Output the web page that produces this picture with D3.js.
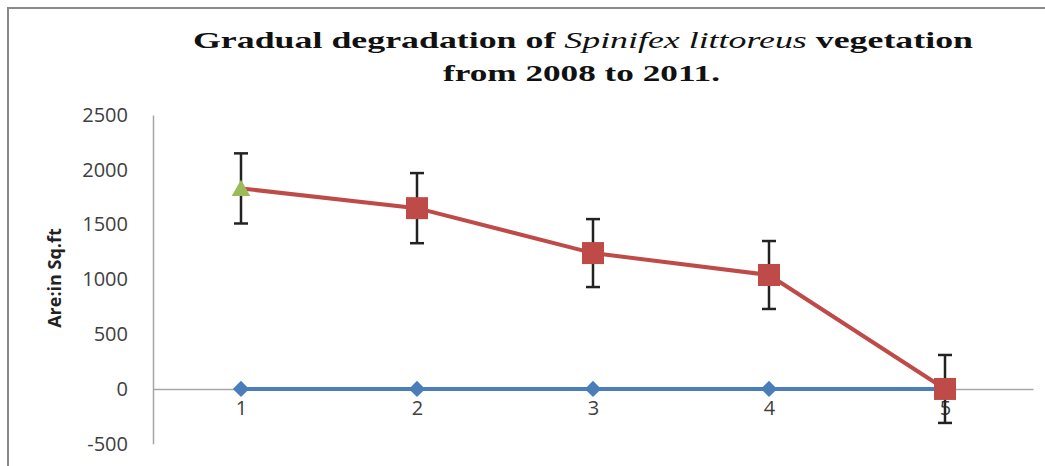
<!DOCTYPE html>
<html><head><meta charset="utf-8">
<script src="https://cdn.jsdelivr.net/npm/d3@7"></script>
<style>body{margin:0;background:#fff;} svg{display:block;}</style>
</head><body>
<svg id="chart" width="1045" height="466"></svg>
<script>
const categories = ["1","2","3","4","5"];
const areaValues = [1830, 1650, 1240, 1040, 0];
const areaErrors = [320, 320, 310, 310, 310];
const baselineValues = [0, 0, 0, 0, 0];
const startMarkerValues = [1810];
const yTicks = [-500, 0, 500, 1000, 1500, 2000, 2500];

const svg = d3.select("#chart");
const W = 1045, H = 466;
svg.append("rect").attr("x",0).attr("y",0).attr("width",W).attr("height",H).attr("fill","#fff");
svg.append("rect").attr("x",8).attr("y",8).attr("width",W).attr("height",H)
  .attr("fill","none").attr("stroke","#8a8a8a").attr("stroke-width",2);

const x = d3.scalePoint().domain(categories).range([153,1033]).padding(0.5);
const y = d3.scaleLinear().domain([-500,2500]).range([443.75,115]);

// Title
const titleFont = "Liberation Serif, DejaVu Serif, serif";
const title = svg.append("text").attr("x",193).attr("y",48)
  .attr("textLength",780).attr("lengthAdjust","spacingAndGlyphs")
  .attr("font-family",titleFont).attr("font-weight","bold")
  .attr("font-size",23).attr("fill","#111");
title.append("tspan").text("Gradual degradation of ");
title.append("tspan").attr("font-style","italic").attr("font-weight","normal").text("Spinifex littoreus");
title.append("tspan").text(" vegetation");
svg.append("text").attr("x",443).attr("y",81)
  .attr("textLength",277).attr("lengthAdjust","spacingAndGlyphs")
  .attr("font-family",titleFont).attr("font-weight","bold")
  .attr("font-size",23).attr("fill","#111").text("from 2008 to 2011.");

// Y axis
const yAxis = d3.axisLeft(y).tickValues(yTicks).tickSize(0).tickPadding(25).tickFormat(d => String(d));
const gy = svg.append("g").attr("transform","translate(153,0)").call(yAxis);
gy.select(".domain").attr("stroke","#a6a6a6").attr("stroke-width",1.5);
gy.selectAll("text").attr("font-family","Open Sans, Liberation Sans, sans-serif").attr("font-size",20).attr("fill","#404040");

// X axis at zero
const xAxis = d3.axisBottom(x).tickSize(0).tickPadding(12);
const gx = svg.append("g").attr("transform",`translate(0,${y(0)})`).call(xAxis);
gx.select(".domain").attr("stroke","#a6a6a6").attr("stroke-width",1.5);
gx.selectAll("text").attr("font-family","Open Sans, Liberation Sans, sans-serif").attr("font-size",20).attr("fill","#404040");

// Y label
svg.append("text").attr("transform",`translate(61,278) rotate(-90)`).attr("text-anchor","middle")
  .attr("font-family","Open Sans, Liberation Sans, sans-serif").attr("font-weight","bold")
  .attr("font-size",18).attr("fill","#222").text("Are:in Sq.ft");

// Blue baseline series
const line = d3.line().x((d,i)=>x(categories[i])).y(d=>y(d));
svg.append("path").datum(baselineValues).attr("d",line).attr("fill","none")
  .attr("stroke","#4a7ebb").attr("stroke-width",4);
svg.selectAll(".dia").data(baselineValues).join("path")
  .attr("transform",(d,i)=>`translate(${x(categories[i])},${y(d)})`)
  .attr("d",d3.symbol().type(d3.symbolDiamond2).size(170)).attr("fill","#4a7ebb");

// Red series
svg.append("path").datum(areaValues).attr("d",line).attr("fill","none")
  .attr("stroke","#be4b48").attr("stroke-width",4);

// Error bars
const eb = svg.selectAll(".eb").data(areaValues).join("g");
eb.append("line").attr("x1",(d,i)=>x(categories[i])).attr("x2",(d,i)=>x(categories[i]))
  .attr("y1",(d,i)=>y(d+areaErrors[i])).attr("y2",(d,i)=>y(d-areaErrors[i]))
  .attr("stroke","#222").attr("stroke-width",2.5);
[1,-1].forEach(s=>{
  eb.append("line").attr("x1",(d,i)=>x(categories[i])-7).attr("x2",(d,i)=>x(categories[i])+7)
    .attr("y1",(d,i)=>y(d+s*areaErrors[i])).attr("y2",(d,i)=>y(d+s*areaErrors[i]))
    .attr("stroke","#222").attr("stroke-width",2.5);
});

svg.selectAll(".sq").data(areaValues.slice(1)).join("rect")
  .attr("x",(d,i)=>x(categories[i+1])-11).attr("y",d=>y(d)-11)
  .attr("width",22).attr("height",22).attr("fill","#be4b48");

// Green start marker
svg.selectAll(".tri").data(startMarkerValues).join("path")
  .attr("transform",(d,i)=>`translate(${x(categories[i])},${y(d)})`)
  .attr("d",d3.symbol().type(d3.symbolTriangle).size(150)).attr("fill","#9bbb59");
</script>
</body></html>
